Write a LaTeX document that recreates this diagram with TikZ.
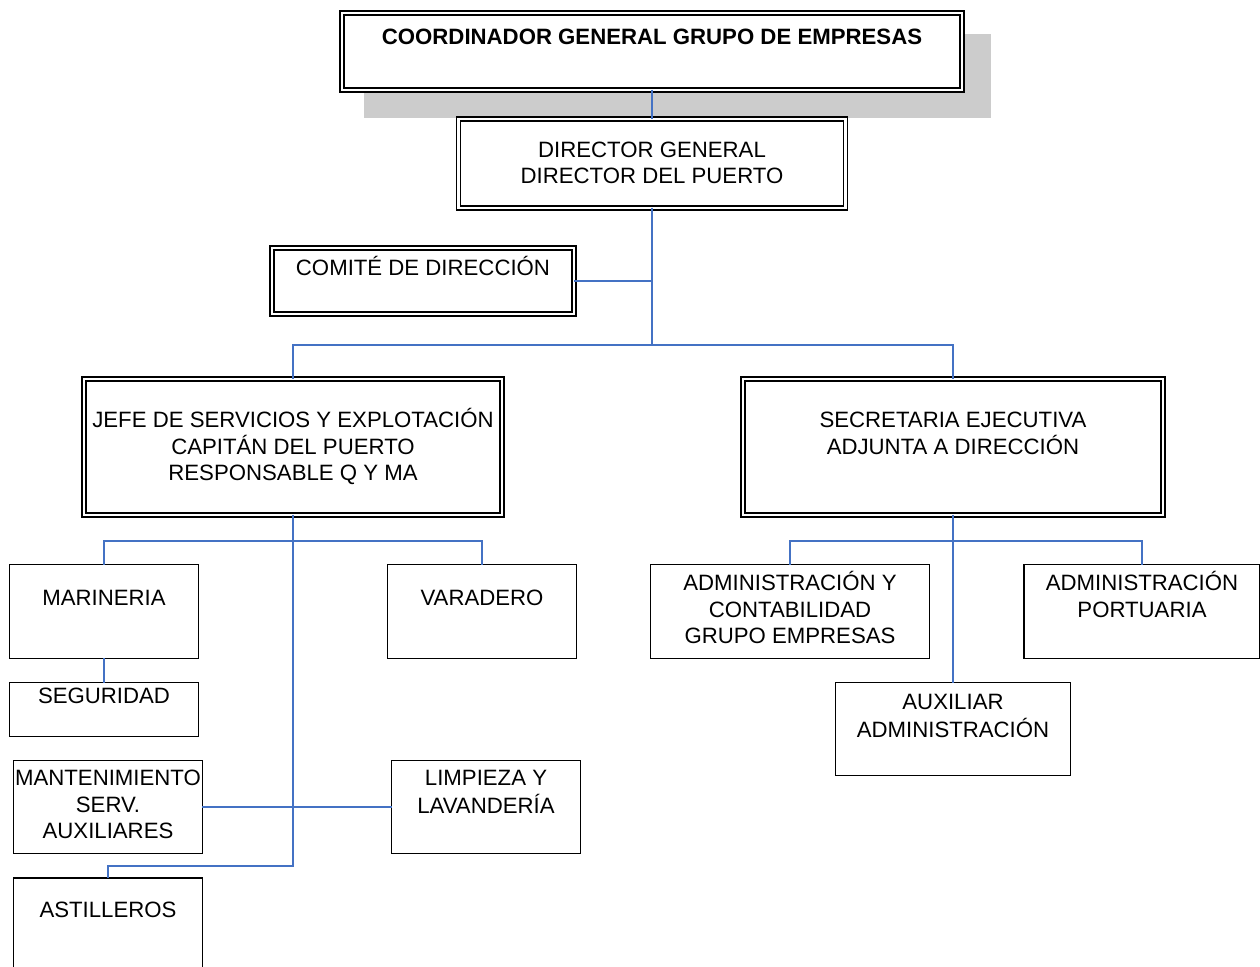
\documentclass[tikz,border=0pt]{standalone}
\usepackage{fontspec}
\setmainfont{Liberation Sans}
\usepackage{tikz}
\usetikzlibrary{positioning}
\definecolor{lineablue}{RGB}{68,114,196}

\begin{document}
\begin{tikzpicture}[x=0.5pt,y=-0.5pt]
  \tikzset{%
    inner sep=0pt,%
    outer sep=0pt,%
    caja/.style={draw,line width=0.7pt,rectangle},
    cajadoble/.style={draw,line width=0.8pt,double,double distance=1.3pt,rectangle},
    texto/.style={font=\fontsize{11.1}{13.25}\selectfont,
        text height=7.95pt,anchor=north},
    enlace/.style={draw=lineablue,line width=0.75pt}
  }
  % estilo, nombre, centro, ancho, alto, distancia del texto, texto
  \newcommand\OrgBox[7][caja]{
    \node[#1,minimum width=#4,minimum height=#5] (#2) at (#3) {};
    \node[texto,below=#6 of #2.north] (#2-t)
      {\begin{tabular}[t]{@{}c@{}}#7\end{tabular}};
  }
  \useasboundingbox (0,0) rectangle (1260,967);

  % sombra gris del coordinador
  \fill[black!20] (364,34) rectangle (991,118);

  \OrgBox[cajadoble,fill=white]{coord}{652,51.5}{310pt}{38.5pt}{7.7pt}%
    {\textbf{COORDINADOR GENERAL GRUPO DE EMPRESAS}}
  \OrgBox[cajadoble]{dirg}{652,163.5}{193.5pt}{44.5pt}{11.2pt}%
    {DIRECTOR GENERAL\\DIRECTOR DEL PUERTO}
  \OrgBox[cajadoble]{comite}{423,281}{151pt}{33pt}{5.7pt}%
    {COMITÉ DE DIRECCIÓN}
  \OrgBox[cajadoble]{jefe}{293,447}{209pt}{68pt}{16.2pt}%
    {JEFE DE SERVICIOS Y EXPLOTACIÓN\\CAPITÁN DEL PUERTO\\RESPONSABLE Q Y MA}
  \OrgBox[cajadoble]{secr}{953,447}{210pt}{68pt}{16.2pt}%
    {SECRETARIA EJECUTIVA\\ADJUNTA A DIRECCIÓN}

  \OrgBox{mar}{104,611.5}{94.3pt}{46.8pt}{12.7pt}{MARINERIA}
  \OrgBox{var}{482,611.5}{94.3pt}{46.8pt}{12.7pt}{VARADERO}
  \OrgBox{seg}{104,709.5}{94.3pt}{26.8pt}{2.7pt}{SEGURIDAD}
  \OrgBox{mant}{108,807}{94.3pt}{46.3pt}{4.7pt}{MANTENIMIENTO\\SERV.\\AUXILIARES}
  \OrgBox{limp}{486,807}{94.3pt}{46.3pt}{4.7pt}{LIMPIEZA Y\\LAVANDERÍA}
  \OrgBox{ast}{108,930}{94.3pt}{52pt}{11.7pt}{ASTILLEROS}

  \OrgBox{adm}{790,611.5}{139.3pt}{46.8pt}{5.2pt}%
    {ADMINISTRACIÓN Y\\CONTABILIDAD\\GRUPO EMPRESAS}
  \OrgBox{port}{1142,611.5}{118pt}{46.8pt}{5.2pt}{ADMINISTRACIÓN\\PORTUARIA}
  \OrgBox{aux}{953,729}{117.3pt}{46.3pt}{5.7pt}{AUXILIAR\\ADMINISTRACIÓN}

  \coordinate (hub) at (652,345);
  \coordinate (jbar) at (293,541);
  \coordinate (sbar) at (953,541);
  \coordinate (aknee) at (108,866);

  \draw[enlace] (coord.south) -- (dirg.north);
  \draw[enlace] (dirg.south) -- (hub);
  \draw[enlace] (comite.east) -- (comite.east -| hub);
  \draw[enlace] (jefe.north) |- (hub) -| (secr.north);

  \draw[enlace] (jefe.south) |- (aknee) -- (ast.north);
  \draw[enlace] (mar.north) |- (jbar) -| (var.north);
  \draw[enlace] (mar.south) -- (seg.north);
  \draw[enlace] (mant.east) -- (limp.west);

  \draw[enlace] (secr.south) -- (aux.north);
  \draw[enlace] (adm.north) |- (sbar) -| (port.north);
\end{tikzpicture}
\end{document}
